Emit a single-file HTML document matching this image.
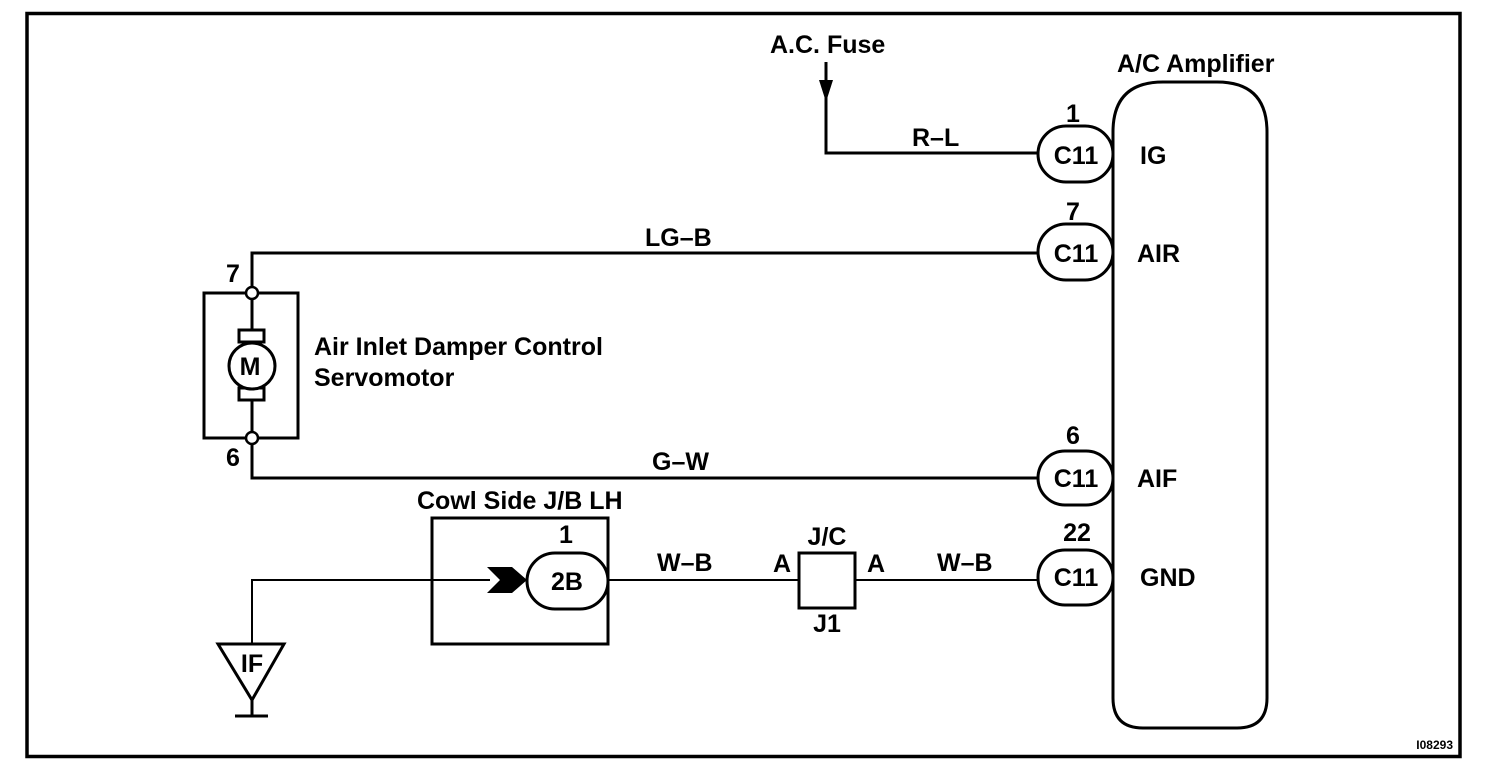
<!DOCTYPE html>
<html><head><meta charset="utf-8"><style>
html,body{margin:0;padding:0;background:#fff;}
svg{display:block;}
text{font-family:"Liberation Sans",Arial,sans-serif;font-weight:bold;fill:#000;font-size:25px;}
</style></head><body>
<svg width="1504" height="776" viewBox="0 0 1504 776" xmlns="http://www.w3.org/2000/svg">
<rect x="27" y="13.5" width="1433" height="743" fill="none" stroke="#000" stroke-width="3.5"/>
<g fill="none" stroke="#000" stroke-width="3">
<!-- amplifier -->
<path d="M1113 698 V132 Q1113 82 1163 82 H1217 Q1267 82 1267 132 V698 Q1267 728 1237 728 H1143 Q1113 728 1113 698 Z"/>
<!-- fuse wire -->
<path d="M826 62 V153 H1038"/>
<path d="M252 287 V253 H1038"/>
<path d="M252 445 V478 H1038"/>
<!-- motor box -->
<rect x="204" y="293" width="94" height="145"/>
<line x1="252" y1="299" x2="252" y2="330"/>
<line x1="252" y1="400" x2="252" y2="432"/>
<rect x="239" y="330" width="25" height="12"/>
<rect x="239" y="388" width="25" height="12"/>
<circle cx="252" cy="366" r="23" fill="#fff"/>
<!-- cowl -->
<rect x="432" y="518" width="176" height="126"/>
<!-- J/C -->
<rect x="799" y="553" width="56" height="55"/>
<!-- ground -->
<path d="M218 644 H284 L252 700 Z"/>
<line x1="252" y1="700" x2="252" y2="715"/>
<line x1="235" y1="716" x2="268" y2="716"/>
</g>
<g fill="#fff" stroke="#000" stroke-width="3">
<rect x="1038" y="126" width="75" height="56" rx="28" ry="28"/>
<rect x="1038" y="224" width="75" height="56" rx="28" ry="28"/>
<rect x="1038" y="451" width="75" height="54" rx="27" ry="27"/>
<rect x="1038" y="550" width="75" height="55" rx="27" ry="27"/>
<rect x="527" y="553" width="81" height="56" rx="28" ry="28"/>
</g>
<circle cx="252" cy="293" r="6" fill="#fff" stroke="#000" stroke-width="2.5"/>
<circle cx="252" cy="438" r="6" fill="#fff" stroke="#000" stroke-width="2.5"/>
<g fill="none" stroke="#000" stroke-width="2">
<path d="M252 643 V580 H490"/>
<path d="M608 580 H799"/>
<path d="M855 580 H1038"/>
</g>
<polygon points="819,80 833,80 826,102" fill="#000"/>
<polygon points="487,567 512,567 527,580 512,593 487,593 500,580" fill="#000"/>
<text x="770" y="53">A.C. Fuse</text>
<text x="1117" y="72">A/C Amplifier</text>
<text x="912" y="146">R–L</text>
<text x="1073" y="122" text-anchor="middle">1</text>
<text x="1076" y="164" text-anchor="middle">C11</text>
<text x="1140" y="164">IG</text>
<text x="645" y="246">LG–B</text>
<text x="1073" y="220" text-anchor="middle">7</text>
<text x="1076" y="262" text-anchor="middle">C11</text>
<text x="1137" y="262">AIR</text>
<text x="226" y="282">7</text>
<text x="226" y="466">6</text>
<text x="250" y="375" text-anchor="middle">M</text>
<text x="314" y="355">Air Inlet Damper Control</text>
<text x="314" y="386">Servomotor</text>
<text x="652" y="470">G–W</text>
<text x="1073" y="444" text-anchor="middle">6</text>
<text x="1076" y="487" text-anchor="middle">C11</text>
<text x="1137" y="487">AIF</text>
<text x="417" y="509">Cowl Side J/B LH</text>
<text x="566" y="543" text-anchor="middle">1</text>
<text x="567" y="590" text-anchor="middle">2B</text>
<text x="657" y="571">W–B</text>
<text x="773" y="572">A</text>
<text x="867" y="572">A</text>
<text x="827" y="545" text-anchor="middle">J/C</text>
<text x="827" y="632" text-anchor="middle">J1</text>
<text x="937" y="571">W–B</text>
<text x="1077" y="541" text-anchor="middle">22</text>
<text x="1076" y="586" text-anchor="middle">C11</text>
<text x="1140" y="586">GND</text>
<text x="252" y="672" text-anchor="middle">IF</text>
<text x="1453" y="749" text-anchor="end" style="font-size:12px">I08293</text>
</svg>
</body></html>
